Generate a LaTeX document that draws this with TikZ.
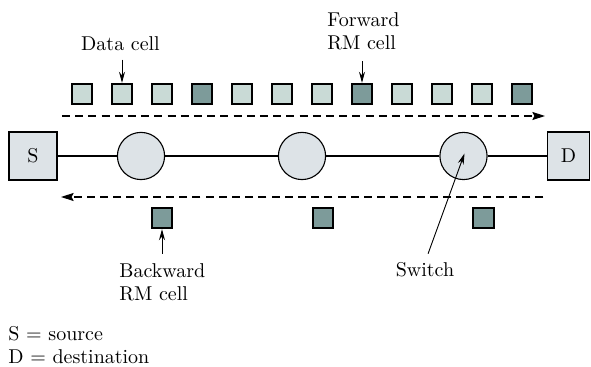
\documentclass[tikz,border=0pt]{standalone}
\usetikzlibrary{arrows.meta}
\definecolor{datafill}{RGB}{201,218,214}
\definecolor{rmfill}{RGB}{125,155,154}
\definecolor{nodefill}{RGB}{221,227,231}
\begin{document}
\begin{tikzpicture}[x=0.5pt,y=-0.5pt,
        every node/.style={font=\fontsize{10pt}{11.5pt}\selectfont},
        cell/.style={draw, line width=0.9pt, minimum size=10.3pt, inner sep=0pt},
        endbox/.style={draw, line width=0.55pt, fill=nodefill, minimum height=24pt, inner sep=0pt},
        switch/.style={draw, line width=0.55pt, fill=nodefill, circle, minimum size=23.6pt, inner sep=0pt},
        lbl/.style={inner sep=0pt},
        lblarrow/.style={line width=0.45pt, -{Stealth[length=5.5pt,width=3pt]}},
        flow/.style={line width=0.55pt, dash pattern=on 4pt off 2.6pt, -{Stealth[length=6.3pt,width=4pt,inset=1pt]}}]
    \useasboundingbox (0,0) rectangle (591,367);
    % end points and switches
    \node[endbox, minimum width=24pt] (S) at (33,156) {S};
    \node[endbox, minimum width=21.3pt] (D) at (568.5,156) {D};
    \foreach \x [count=\j] in {141,302,463.5}
        \node[switch] (k\j) at (\x,156) {};
    \draw[line width=0.55pt] (S) -- (k1) -- (k2) -- (k3) -- (D);
    % forward cells
    \foreach \i in {0,...,11} {
        \pgfmathtruncatemacro\m{mod(\i,4)}
        \ifnum\m=3 \def\cellfill{rmfill}\else\def\cellfill{datafill}\fi
        \node[cell, fill=\cellfill] (c\i) at (82+40*\i,94) {};
    }
    % backward cells
    \foreach \x [count=\j] in {162,323,483.5}
        \node[cell, fill=rmfill] (b\j) at (\x,218) {};
    \coordinate (fwdstart) at (62,116);
    \coordinate (fwdend) at (545,116);
    \coordinate (bwdstart) at (543.5,197);
    \coordinate (bwdend) at (61,197);
    \draw[flow] (fwdstart) -- (fwdend);
    \draw[flow] (bwdstart) -- (bwdend);
    % labels
    \node[lbl, anchor=base] (datalbl) at (120.5,51) {Data cell};
    \node[lbl, anchor=north west, align=left] (fwdlbl) at (327,12.1) {Forward\\RM cell};
    \node[lbl, anchor=north west, align=left] (bwdlbl) at (119,262.8) {Backward\\RM cell};
    \node[lbl, anchor=base] (swlbl) at (425,276.7) {Switch};
    \node[lbl, anchor=north west, align=left] (legend) at (8,325.9) {S = source\\D = destination};
    \draw[lblarrow, shorten <=4] (datalbl.south -| c1) -- (c1.north);
    \draw[lblarrow, shorten <=5.5] (fwdlbl.south -| c7) -- (c7.north);
    \draw[lblarrow, shorten <=4.5] (bwdlbl.north -| b1) -- (b1.south);
    \draw[lblarrow, shorten <=4.5] (swlbl.north) -- ([shift={(1,-2.5)}]k3.center);
\end{tikzpicture}
\end{document}
